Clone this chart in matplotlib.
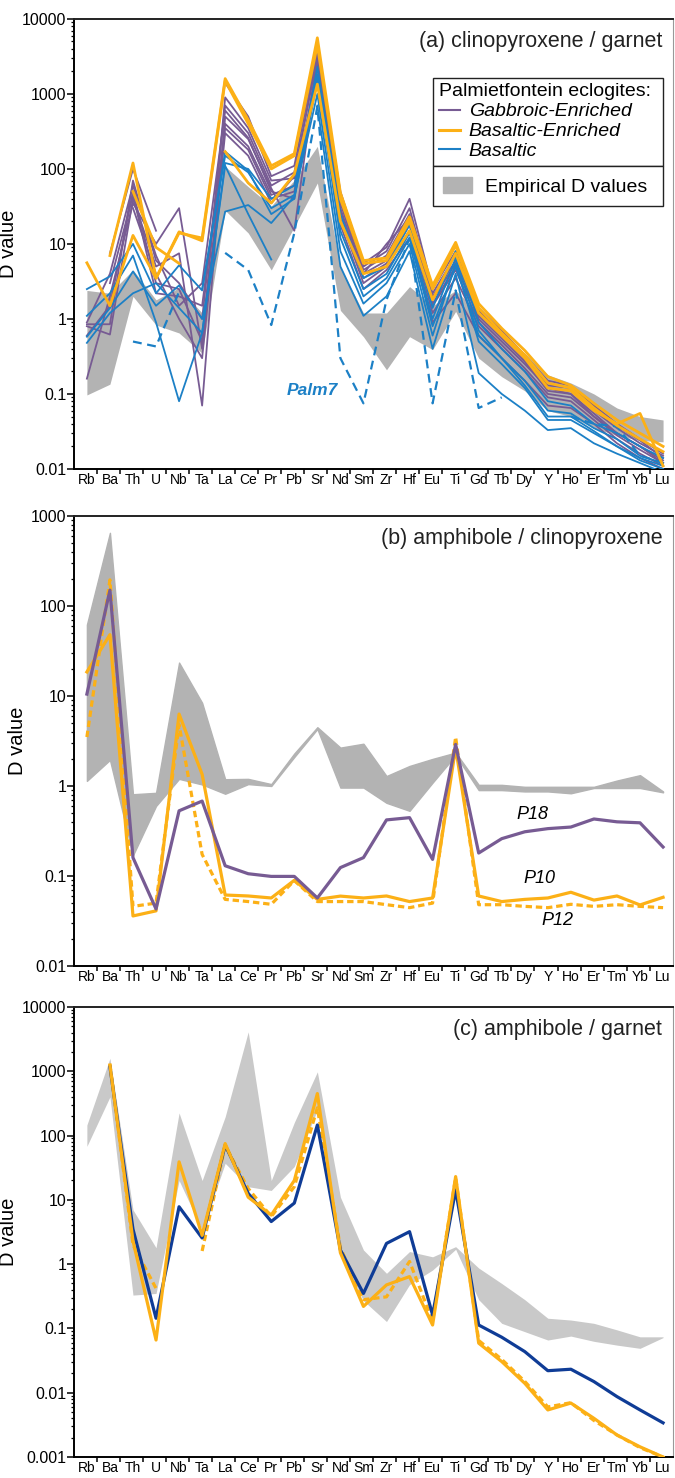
import numpy as np
import matplotlib.pyplot as plt
import matplotlib.ticker as mtick
from matplotlib.lines import Line2D
from matplotlib.patches import Patch

plt.rcParams['font.family'] = ['Liberation Sans', 'DejaVu Sans']

nan = np.nan
elements = ['Rb', 'Ba', 'Th', 'U', 'Nb', 'Ta', 'La', 'Ce', 'Pr', 'Pb', 'Sr', 'Nd', 'Sm',
            'Zr', 'Hf', 'Eu', 'Ti', 'Gd', 'Tb', 'Dy', 'Y', 'Ho', 'Er', 'Tm', 'Yb', 'Lu']

# ---- (a) clinopyroxene / garnet ----
a_emp_hi = [2.4, 2.2, 4.5, 1.8, 2.6, 1.2, 108, 58, 32, 71, 200, 5, 1.2, 1.2, 2.7, 1.5, 2.4,
            1.2, 0.6, 0.35, 0.18, 0.14, 0.1, 0.065, 0.05, 0.045]
a_emp_lo = [0.097, 0.135, 2.0, 0.83, 0.65, 0.35, 28, 14, 4.5, 17, 65, 1.3, 0.58, 0.21, 0.58,
            0.39, 1.26, 0.3, 0.17, 0.11, 0.06, 0.05, 0.035, 0.028, 0.024, 0.023]

a_gabbroic = [
    [nan, 7.5, 100, 15, nan, nan, 1400, 500, 80, 110, 4000, 50, 5.5, 9, 40, 2.5, 8, 1.4, 0.7, 0.33, 0.15, 0.13, 0.07, 0.04, 0.025, 0.016],
    [0.85, 0.85, 70, 6, 3, 1.0, 700, 300, 60, 90, 3000, 40, 4.5, 7, 25, 2.0, 6, 1.2, 0.6, 0.3, 0.13, 0.12, 0.06, 0.035, 0.022, 0.015],
    [0.8, 0.62, 40, 5, 7.5, 0.07, 500, 250, 55, 15, 2500, 35, 4, 6, 20, 1.8, 5.5, 1.0, 0.5, 0.25, 0.12, 0.1, 0.055, 0.03, 0.02, 0.013],
    [0.16, 2.0, 35, 10, 30, 0.4, 400, 200, 45, 60, 2200, 30, 3.5, 5.5, 18, 1.5, 4.5, 0.9, 0.45, 0.22, 0.1, 0.09, 0.05, 0.028, 0.018, 0.012],
    [0.6, 1.5, 50, 3, 2.5, 0.5, 900, 350, 70, 75, 3500, 45, 5, 8, 30, 2.2, 7, 1.3, 0.65, 0.28, 0.12, 0.11, 0.065, 0.038, 0.024, 0.014],
    [nan, 3, 45, 2.2, 2.0, 1.5, 350, 180, 40, 50, 1800, 22, 3, 5, 15, 1.2, 3.5, 0.8, 0.4, 0.2, 0.09, 0.08, 0.045, 0.025, 0.016, 0.011],
    [0.9, 4, 60, 7, 1.5, 3, 600, 260, 50, 40, 2800, 28, 4, 10, 22, 1.6, 5, 1.1, 0.55, 0.27, 0.11, 0.1, 0.05, 0.03, 0.02, 0.012],
    [nan, nan, 30, 4, 1.0, 0.3, 300, 150, 35, 80, 1500, 18, 2.5, 4.5, 12, 0.9, 2.2, 0.6, 0.3, 0.15, 0.07, 0.065, 0.04, 0.022, 0.014, 0.01],
]
a_basaltic_enr = [
    [nan, 7, 120, 3.5, 14, 12, 1600, 450, 110, 160, 5600, 48, 6, 6.5, 23, 2.8, 10.5, 1.6, 0.75, 0.38, 0.17, 0.13, 0.075, 0.045, 0.03, 0.02],
    [nan, nan, 50, 9, 5.5, nan, 170, 65, 35, 85, 1350, 20, 4, 5, 15, 1.8, 7.5, 1.2, 0.6, 0.3, 0.12, 0.11, 0.06, 0.04, 0.055, 0.011],
    [5.6, 1.5, 13, 3.5, 14.5, 11, 1500, 400, 100, 150, 4500, 40, 5.5, 6, 20, 2.5, 9.5, 1.4, 0.65, 0.33, 0.14, 0.12, 0.065, 0.038, 0.025, 0.017],
]
a_basaltic = [
    [2.5, 3.7, 10, 2.2, 5.2, 2.4, 150, 90, 30, 45, 2300, 25, 3.5, 5, 18, 1.4, 8, 0.9, 0.4, 0.2, 0.08, 0.07, 0.04, 0.03, 0.02, 0.014],
    [1.1, 2.2, 7, 0.9, 0.08, 0.65, 120, 100, 40, 60, 1800, 15, 2.5, 4, 14, 1.0, 6.5, 0.7, 0.3, 0.15, 0.06, 0.055, 0.035, 0.025, 0.015, 0.012],
    [0.58, 1.4, 4.3, 1.5, 2.8, 1.0, 27, 33, 19, 43, 1000, 8, 1.6, 3, 10, 0.6, 5.5, 0.5, 0.25, 0.12, 0.045, 0.045, 0.03, 0.02, 0.013, 0.01],
    [0.48, 1.2, 2.2, 3.0, 1.4, 0.65, 110, 25, 6.2, nan, 700, 5, 1.1, 2, 8, 0.4, 4, 0.19, 0.1, 0.06, 0.033, 0.035, 0.022, 0.016, 0.012, 0.009],
    [nan, nan, nan, nan, nan, 2.5, 170, 95, 25, 40, 1500, 12, 2, 3.5, 12, 0.8, 5, 0.6, 0.3, 0.13, 0.05, 0.05, 0.032, 0.02, 0.014, 0.011],
]
a_palm7 = [nan, nan, 0.5, 0.43, 2.3, nan, 7.6, 4.5, 0.83, 14, 680, 0.3, 0.075, 1.8, 12, 0.075,
           2.4, 0.065, 0.09, nan, nan, 0.05, 0.04, 0.037, 0.015, 0.012]

# ---- (b) amphibole / clinopyroxene ----
b_emp_hi = [62, 650, 0.81, 0.84, 23.5, 8.4, 1.19, 1.2, 1.05, 2.3, 4.5, 2.67, 2.95, 1.29, 1.67, 2.0,
            2.35, 1.03, 1.03, 0.98, 0.98, 0.98, 0.98, 1.15, 1.32, 0.87]
b_emp_lo = [1.14, 1.95, 0.17, 0.6, 1.2, 1.04, 0.82, 1.05, 1.0, 2.1, 4.3, 0.96, 0.96, 0.65, 0.53, 1.09,
            2.2, 0.9, 0.9, 0.87, 0.87, 0.83, 0.95, 0.95, 0.95, 0.85]
b_p18 = [10.5, 150, 0.16, 0.043, 0.53, 0.68, 0.13, 0.106, 0.099, 0.099, 0.057, 0.124, 0.16, 0.42,
         0.445, 0.153, 2.9, 0.18, 0.26, 0.31, 0.336, 0.35, 0.43, 0.40, 0.39, 0.21]
b_p10 = [18.5, 48, 0.036, 0.041, 6.3, 1.35, 0.0615, 0.060, 0.057, 0.0896, 0.055, 0.0598, 0.057, 0.06,
         0.052, 0.057, 2.67, 0.06, 0.052, 0.055, 0.057, 0.066, 0.054, 0.06, 0.0477, 0.058]
b_p12 = [3.5, 195, 0.046, 0.05, 4.8, 0.174, 0.055, 0.052, 0.0485, 0.089, 0.052, 0.052, 0.052, 0.048,
         0.0445, 0.05, 3.5, 0.048, 0.048, 0.046, 0.0445, 0.0485, 0.046, 0.048, 0.046, 0.0445]

# ---- (c) amphibole / garnet ----
c_emp_hi = [146, 1590, 7, 1.8, 225, 20, 196, 4100, 20, 160, 980, 11, 1.66, 0.72, 1.57, 1.3, 1.87,
            0.87, 0.5, 0.28, 0.144, 0.135, 0.12, 0.095, 0.074, 0.074]
c_emp_lo = [68, 400, 0.33, 0.35, 20, 3.4, 37, 16, 14, 33, 250, 1.4, 0.27, 0.128, 0.48, 0.81, 1.7,
            0.28, 0.12, 0.089, 0.066, 0.076, 0.063, 0.055, 0.049, 0.072]
c_navy = [nan, 1170, 3.5, 0.144, 7.8, 2.55, 71, 12.6, 4.6, 8.9, 146, 1.66, 0.35, 2.1, 3.2, 0.162,
          14.3, 0.113, 0.073, 0.0436, 0.022, 0.0232, 0.0149, 0.0087, 0.0054, 0.0034]
c_orange = [nan, 1250, 2.3, 0.066, 39, 2.8, 75, 11, 5.8, 20, 450, 1.5, 0.22, 0.475, 0.64, 0.113,
            23, 0.059, 0.0305, 0.014, 0.0054, 0.0069, 0.004, 0.0022, 0.00144, 0.001]
c_orange_dash = [nan, 1300, 2.0, 0.42, nan, 1.6, 70, 15, 5.5, 16, 270, 1.8, 0.28, 0.31, 1.1, 0.13,
                 22, 0.065, 0.033, 0.015, 0.006, 0.007, 0.0037, 0.0022, 0.0014, 0.001]

purple = '#775b93'
orange = '#fcb016'
blue = '#1c80c6'
navy = '#0f3c96'
grey_ab = '#b3b3b3'
grey_c = '#c9c9c9'

x = np.arange(len(elements))

fig = plt.figure(figsize=(6.75, 14.78), dpi=100)
ax_a = fig.add_axes([0.1096, 0.6827, 0.8874, 0.3045])
ax_b = fig.add_axes([0.1096, 0.3464, 0.8874, 0.3045])
ax_c = fig.add_axes([0.1096, 0.0142, 0.8874, 0.3045])


def style_axis(ax, lo, hi, title):
    ax.set_yscale('log')
    ax.set_ylim(lo, hi)
    ax.set_xlim(-0.56, 25.43)
    decades = [10.0 ** k for k in range(int(np.log10(lo)), int(np.log10(hi)) + 1)]
    ax.yaxis.set_major_locator(mtick.FixedLocator(decades))
    ax.yaxis.set_major_formatter(mtick.FixedFormatter(['%g' % d for d in decades]))
    ax.yaxis.set_minor_locator(mtick.LogLocator(subs=np.arange(2, 10)))
    ax.yaxis.set_minor_formatter(mtick.NullFormatter())
    ax.tick_params(axis='y', which='major', length=5, width=1.1, labelsize=11.5, pad=0.5)
    ax.tick_params(axis='y', which='minor', length=2.5, width=0.9)
    ax.set_xticks(x)
    ax.set_xticklabels(elements, fontsize=10)
    ax.set_xticks(x[:-1] + 0.42, minor=True)
    ax.tick_params(axis='x', which='major', length=0, pad=3)
    ax.tick_params(axis='x', which='minor', length=3.5, width=1.1)
    for s in ['left', 'bottom', 'top']:
        ax.spines[s].set_linewidth(1.4)
    ax.spines['top'].set_color('#222222')
    ax.spines['right'].set_color('#999999')
    ax.spines['right'].set_linewidth(0.8)
    ax.set_ylabel('D value', fontsize=14.5, labelpad=3)
    ax.text(0.982, 0.95, title, transform=ax.transAxes, ha='right', va='center',
            fontsize=15.5, color='#222222')


# panel a
ax_a.fill_between(x, a_emp_lo, a_emp_hi, color=grey_ab, lw=0, zorder=1)
for row in a_gabbroic:
    ax_a.plot(x, row, color=purple, lw=1.3, zorder=3)
for row in a_basaltic:
    ax_a.plot(x, row, color=blue, lw=1.3, zorder=4)
for row in a_basaltic_enr:
    ax_a.plot(x, row, color=orange, lw=2.0, zorder=5)
ax_a.plot(x, a_palm7, color=blue, lw=1.6, ls=(0, (4, 2.5)), zorder=4)
ax_a.text(9.77, 0.11, 'Palm7', color=blue, fontsize=12.5, fontweight='bold', style='italic',
          ha='center', va='center')
style_axis(ax_a, 0.01, 10000, '(a) clinopyroxene / garnet')

h_lines = [Line2D([], [], color=purple, lw=1.5), Line2D([], [], color=orange, lw=2.2),
           Line2D([], [], color=blue, lw=1.5)]
leg1 = ax_a.legend(h_lines, ['Gabbroic-Enriched', 'Basaltic-Enriched', 'Basaltic'],
                   title='Palmietfontein eclogites:', loc='lower left',
                   bbox_to_anchor=(0.599, 0.673, 0.384, 0.0), mode='expand',
                   fancybox=False, edgecolor='#222222', framealpha=1, fontsize=14,
                   title_fontsize=14, handlelength=1.1, handletextpad=0.45,
                   borderaxespad=0, labelspacing=0.12, borderpad=0.3)
leg1.get_frame().set_linewidth(1.0)
leg1._legend_box.align = 'left'
for t in leg1.get_texts():
    t.set_style('italic')
leg2 = ax_a.legend([Patch(color=grey_ab)], ['Empirical D values'], loc='upper left',
                   bbox_to_anchor=(0.599, 0.673, 0.384, 0.0), mode='expand',
                   fancybox=False, edgecolor='#222222', framealpha=1, fontsize=14,
                   handlelength=1.45, handleheight=0.9, handletextpad=0.7,
                   borderaxespad=0, borderpad=0.55)
leg2.get_frame().set_linewidth(1.0)
ax_a.add_artist(leg1)

# panel b
ax_b.fill_between(x, b_emp_lo, b_emp_hi, color=grey_ab, lw=1, edgecolor=grey_ab, zorder=1)
ax_b.plot(x, b_p18, color=purple, lw=2.3, zorder=4)
ax_b.plot(x, b_p12, color=orange, lw=2.3, ls=(0, (2, 1.2)), zorder=3)
ax_b.plot(x, b_p10, color=orange, lw=2.3, zorder=3)
ax_b.text(19.35, 0.48, 'P18', fontsize=13, style='italic', ha='center', va='center')
ax_b.text(19.65, 0.095, 'P10', fontsize=13, style='italic', ha='center', va='center')
ax_b.text(20.4, 0.032, 'P12', fontsize=13, style='italic', ha='center', va='center')
style_axis(ax_b, 0.01, 1000, '(b) amphibole / clinopyroxene')

# panel c
ax_c.fill_between(x, c_emp_lo, c_emp_hi, color=grey_c, lw=0, zorder=1)
ax_c.plot(x, c_orange_dash, color=orange, lw=2.3, ls=(0, (2, 1.2)), zorder=3)
ax_c.plot(x, c_navy, color=navy, lw=2.3, zorder=4)
ax_c.plot(x, c_orange, color=orange, lw=2.3, zorder=5)
style_axis(ax_c, 0.001, 10000, '(c) amphibole / garnet')

fig.savefig('out.png', dpi=100)
